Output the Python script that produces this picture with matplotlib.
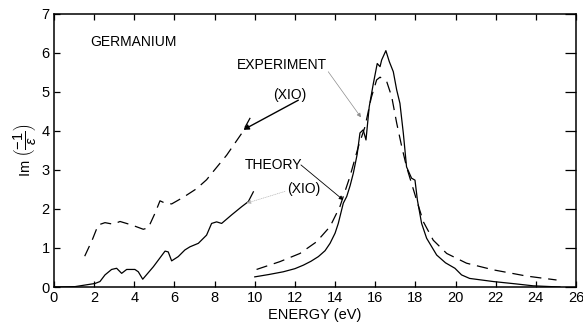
import matplotlib
matplotlib.use("Agg")
import matplotlib.pyplot as plt

plt.rcParams['font.family'] = ['Liberation Sans', 'DejaVu Sans']
plt.rcParams['mathtext.fontset'] = 'custom'
plt.rcParams['mathtext.rm'] = 'Liberation Sans'
plt.rcParams['mathtext.it'] = 'Liberation Sans:italic'

# low-energy part, both curves multiplied by 10
dashed_low_x = [1.53, 1.9, 2.2, 2.54, 2.95, 3.29, 3.87, 4.45, 4.7, 5.03, 5.28, 5.53, 5.86,
                6.44, 7.1, 7.6, 7.93, 8.6, 9.35, 9.85]
dashed_low_y = [0.79, 1.2, 1.59, 1.65, 1.61, 1.68, 1.59, 1.48, 1.52, 1.89, 2.21, 2.15, 2.13,
                2.3, 2.52, 2.75, 2.96, 3.38, 3.94, 4.41]

solid_low_x = [0, 1.05, 2.04, 2.29, 2.54, 2.87, 3.12, 3.37, 3.62, 4.03, 4.2, 4.42, 4.95, 5.53,
               5.69, 5.86, 6.19, 6.52, 6.77, 7.19, 7.6, 7.85, 8.1, 8.35, 8.85, 9.35, 9.68, 9.93]
solid_low_y = [0, 0.01, 0.09, 0.14, 0.31, 0.45, 0.48, 0.35, 0.45, 0.45, 0.39, 0.2, 0.52, 0.92,
               0.9, 0.67, 0.78, 0.95, 1.03, 1.12, 1.33, 1.63, 1.67, 1.63, 1.85, 2.06, 2.19, 2.44]

# plasmon peak region
solid_x = [10.0, 10.7, 11.42, 12.0, 12.42, 12.8, 13.17, 13.5, 13.75, 14.0, 14.16, 14.41, 14.58,
           14.75, 14.91, 15.1, 15.24, 15.4, 15.54, 15.7, 15.9, 16.1, 16.24, 16.32, 16.53, 16.7,
           16.9, 17.07, 17.23, 17.4, 17.56, 17.81, 17.98, 18.1, 18.31, 18.56, 19.06, 19.5,
           19.97, 20.3, 20.7, 21.88, 23.0, 23.87, 25.2]
solid_y = [0.26, 0.32, 0.39, 0.47, 0.56, 0.66, 0.78, 0.93, 1.12, 1.38, 1.63, 2.15, 2.32,
           2.6, 2.92, 3.4, 3.95, 4.03, 3.77, 4.62, 5.2, 5.73, 5.65, 5.82, 6.06, 5.78,
           5.52, 5.05, 4.71, 3.94, 3.08, 2.79, 2.74, 2.23, 1.63, 1.25, 0.82, 0.62,
           0.48, 0.31, 0.22, 0.14, 0.08, 0.03, 0.0]

dashed_x = [10.09, 11.25, 12.25, 13.08, 13.75, 14.24, 14.74, 15.16, 15.49, 15.8, 16.07, 16.24,
            16.57, 16.82, 17.07, 17.32, 17.56, 18.06, 18.4, 18.89, 19.56, 20.55, 21.88, 23.54, 25.03]
dashed_y = [0.45, 0.65, 0.86, 1.16, 1.55, 2.06, 2.83, 3.6, 4.11, 4.85, 5.31, 5.38,
            5.27, 4.88, 4.2, 3.6, 3.08, 2.23, 1.67, 1.2, 0.86, 0.61, 0.44, 0.28, 0.18]

x_ticks = list(range(0, 27, 2))
y_ticks = list(range(0, 8))

fig = plt.figure(figsize=(5.83, 3.3), dpi=100)
ax = fig.add_axes([0.0926, 0.1303, 0.8954, 0.8273])

dash = (9, 5.5)
ax.plot(dashed_low_x, dashed_low_y, color='black', lw=0.9, dashes=dash)
ax.plot(solid_low_x, solid_low_y, color='black', lw=0.9)
ax.plot(dashed_x, dashed_y, color='black', lw=0.9, dashes=dash)
ax.plot(solid_x, solid_y, color='black', lw=0.9)

# labels and leaders
ax.text(1.8, 6.28, "GERMANIUM", fontsize=10, va='center')
ax.text(9.1, 5.69, "EXPERIMENT", fontsize=10, va='center')
ax.text(10.9, 4.92, "(XIO)", fontsize=10, va='center')
ax.text(9.5, 3.13, "THEORY", fontsize=10, va='center')
ax.text(11.6, 2.51, "(XIO)", fontsize=10, va='center')

ax.annotate("", xy=(9.43, 4.03), xytext=(12.17, 4.79),
            arrowprops=dict(arrowstyle='-|>', color='black', lw=1.0,
                            mutation_scale=8, shrinkA=0, shrinkB=0))
ax.annotate("", xy=(15.29, 4.35), xytext=(13.66, 5.52),
            arrowprops=dict(arrowstyle='-|>', color='0.55', lw=0.5,
                            mutation_scale=6, shrinkA=0, shrinkB=0))
ax.annotate("", xy=(14.41, 2.23), xytext=(12.3, 3.13),
            arrowprops=dict(arrowstyle='-|>', color='black', lw=0.6,
                            mutation_scale=6, shrinkA=0, shrinkB=0))
ax.annotate("", xy=(9.6, 2.15), xytext=(11.5, 2.45),
            arrowprops=dict(arrowstyle='-|>', color='0.7', lw=0.5, ls=':',
                            mutation_scale=6, shrinkA=0, shrinkB=0))

ax.set_xlim(0, 26)
ax.set_ylim(0, 7)
ax.set_xticks(x_ticks)
ax.set_yticks(y_ticks)
ax.tick_params(direction='in', top=True, right=True, length=4, width=0.9,
               labelsize=10.5, pad=3)
ax.tick_params(axis='y', which='both', right=True, labelright=False)
for t in ax.xaxis.get_major_ticks():
    if t.get_loc() in (10, 20):
        t.tick1line.set_markersize(9)
        t.tick2line.set_markersize(9)
for t in ax.yaxis.get_major_ticks():
    t.tick2line.set_markersize(8)

for s in ax.spines.values():
    s.set_linewidth(1.1)

ax.set_xlabel("ENERGY (eV)", fontsize=10.5, labelpad=2)
ax.set_ylabel(r"Im $\left(\dfrac{-1}{\epsilon}\right)$", fontsize=10.5, labelpad=2)

fig.savefig("out.png", dpi=100)
